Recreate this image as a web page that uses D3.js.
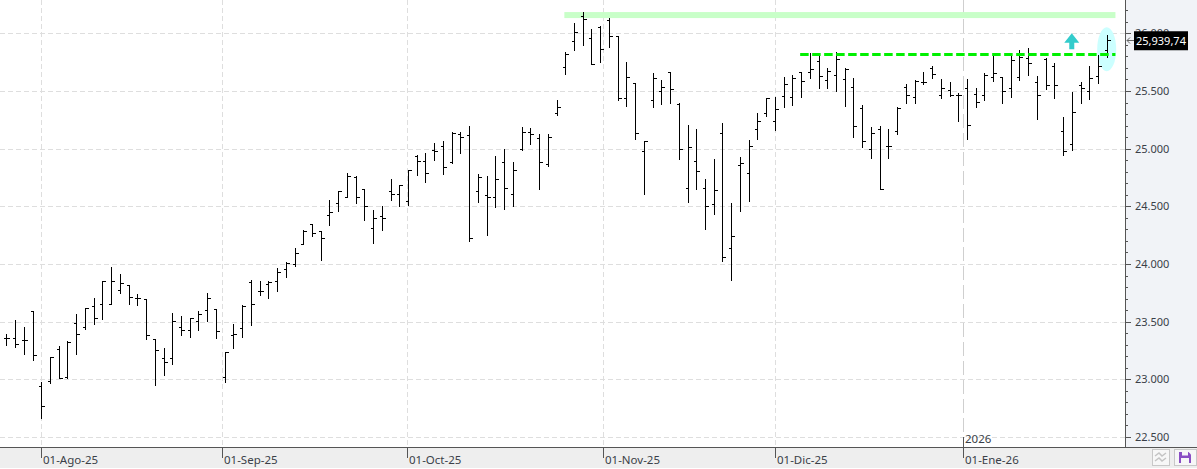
<!DOCTYPE html>
<html>
<head>
<meta charset="utf-8">
<script src="https://cdn.jsdelivr.net/npm/d3@7"></script>
<style>
    html, body { margin: 0; padding: 0; background: #fff; overflow: hidden; }
    text { font-family: "Noto Sans", sans-serif; font-size: 11.5px; fill: #3a3f48; }
</style>
</head>
<body>
<div id="chart"></div>
<script>
// Daily bars, oldest first
const opens = [23354,23356,23342,23591,22939,22982,23261,23017,23487,23452,23635,23652,23652,23774,23814,23701,23696,23348,23182,23182,23452,23426,23504,23600,23609,23017,23385,23443,23843,23762,23826,23852,23957,24000,24175,24343,24285,24421,24525,24582,24753,24646,24316,24412,24629,24611,24542,24935,24889,24984,25027,24886,25123,25114,24629,24594,24577,24880,24603,24993,25140,25088,24871,25305,25706,25931,26147,25957,26052,26112,25974,25438,25568,24980,25421,25499,25663,25386,24660,24893,24660,24522,25135,24141,24859,24790,25170,25308,25239,25454,25445,25662,25662,25757,25593,25636,25601,25532,25350,25000,25168,25026,25150,25532,25445,25581,25697,25462,25506,25462,25523,25471,25464,25617,25617,25522,25617,25783,25577,25774,25713,25156,25043,25548,25504,25626,25852];
const highs = [23391,23516,23452,23591,22974,23191,23290,23330,23568,23617,23704,23852,23974,23916,23817,23739,23696,23348,23269,23574,23548,23530,23591,23748,23609,23240,23478,23641,23858,23852,23849,23965,24014,24136,24293,24343,24288,24551,24637,24785,24767,24646,24464,24507,24741,24689,24819,24941,24958,25048,25062,25140,25140,25192,24776,24767,24932,24993,24880,25184,25178,25123,25123,25424,25836,26086,26184,26035,26061,26130,25974,25749,25568,25066,25654,25594,25663,25392,25205,25170,24738,24911,25222,24530,24928,25075,25308,25438,25447,25621,25636,25662,25827,25801,25697,25835,25697,25610,25376,25185,25199,25168,25358,25558,25593,25662,25714,25601,25575,25480,25601,25523,25652,25803,25617,25803,25855,25872,25629,25783,25739,25278,25495,25574,25713,25812,25983];
const lows = [23301,23284,23220,23168,22664,22971,23009,23014,23220,23438,23481,23527,23649,23745,23649,23641,23348,22953,23040,23136,23380,23371,23432,23507,23354,22980,23275,23371,23475,23727,23701,23762,23884,23980,24169,24244,24033,24337,24461,24577,24530,24383,24184,24296,24556,24504,24513,24773,24712,24903,24782,24877,24964,24201,24539,24253,24496,24478,24504,24984,25042,24652,24851,25288,25651,25856,25902,25732,25755,25885,25418,25366,25081,24605,25357,25383,25392,24908,24536,24648,24302,24432,24026,23862,24458,24545,25081,25280,25158,25364,25382,25448,25616,25526,25529,25503,25373,25104,25017,24919,24647,24922,25130,25399,25399,25558,25616,25442,25454,25243,25087,25358,25426,25588,25397,25449,25594,25640,25258,25519,25440,24944,24988,25397,25429,25571,25791];
const closes = [23354,23310,23342,23214,22765,23191,23014,23322,23391,23617,23530,23849,23852,23835,23713,23701,23383,23252,23148,23504,23426,23530,23565,23704,23417,23235,23397,23638,23652,23762,23843,23930,24009,24096,24290,24270,24221,24455,24634,24759,24577,24499,24395,24395,24611,24681,24811,24889,24785,24978,24837,25134,25097,24221,24750,24577,24741,24655,24819,25140,25123,24880,25097,25360,25818,26009,26121,25732,25862,25974,25438,25620,25135,25066,25611,25533,25516,24997,25014,24807,24504,24643,24063,24245,24876,25023,25239,25438,25343,25561,25610,25584,25688,25627,25671,25775,25688,25194,25064,25133,24647,25020,25353,25462,25584,25581,25645,25523,25462,25462,25202,25402,25635,25652,25504,25765,25791,25739,25461,25548,25548,24982,25321,25522,25609,25713,25939.74];

// Month ticks sit on a bar index, or between two bars when the 1st is not a session
const monthLabels = ["01-Ago-25","01-Sep-25","01-Oct-25","01-Nov-25","01-Dic-25","01-Ene-26"];
const monthIndex = [4, 24.73, 45.92, 68.36, 88, 109.5];
const yearLabel = "2026";

const priceTicks = [22500,23000,23500,24000,24500,25000,25500,26000];
const minorTicks = d3.range(22500, 26500, 100);
const lastPrice = 25939.74;
const lastPriceLabel = "25,939,74";

// Drawn levels
const resistance = 25821;
const channelTop = 26158;
const bandStart = 63.9;
const lineStart = 90.9;
const markerEnd = 127;

const width = 1197;
const height = 469;
const axisX = 1125;
const axisY = 447;

const svg = d3.select("#chart")
    .append("svg")
    .attr("width", width)
    .attr("height", height)
    .style("display", "block");

const xScale = d3.scaleLinear().domain([0, 126]).range([6.3, 1106.7]);
const yScale = d3.scaleLinear().domain([22500, 26000]).range([437, 33.3]);
const snap = v => Math.round(v) + 0.5;

// Panels
svg.append("rect").attr("x", axisX).attr("y", 0).attr("width", width - axisX).attr("height", axisY).attr("fill", "#f1f3f7");
svg.append("rect").attr("x", 0).attr("y", axisY).attr("width", width).attr("height", 21).attr("fill", "#eeeeee");

// Grid
svg.append("g").selectAll("line")
    .data(priceTicks)
    .enter()
    .append("line")
    .attr("x1", 0)
    .attr("x2", axisX)
    .attr("y1", d => snap(yScale(d)))
    .attr("y2", d => snap(yScale(d)))
    .style("stroke", "#dedede")
    .style("stroke-dasharray", "5,3");

svg.append("g").selectAll("line")
    .data(monthIndex)
    .enter()
    .append("line")
    .attr("x1", d => snap(xScale(d)))
    .attr("x2", d => snap(xScale(d)))
    .attr("y1", 0)
    .attr("y2", axisY)
    .style("stroke", (d, i) => i === 5 ? "#cfcfcf" : "#dedede")
    .style("stroke-dasharray", (d, i) => i === 5 ? "14,5" : "5,3");

// Highlight ellipse and resistance band go under the bars
svg.append("ellipse")
    .attr("cx", xScale(126))
    .attr("cy", yScale(25862))
    .attr("rx", 9.5)
    .attr("ry", 22)
    .attr("fill", "#ccffff");

svg.append("rect")
    .attr("x", xScale(bandStart))
    .attr("y", yScale(channelTop) - 3)
    .attr("width", xScale(markerEnd) - xScale(bandStart))
    .attr("height", 6)
    .attr("fill", "#c8ffc8");

// OHLC bars
const bars = svg.append("g").attr("shape-rendering", "crispEdges");
opens.forEach((open, i) => {
    const x = snap(xScale(i));
    bars.append("line")
        .attr("x1", x).attr("x2", x)
        .attr("y1", Math.round(yScale(highs[i])))
        .attr("y2", Math.round(yScale(lows[i])) + 1)
        .style("stroke", "#000");
    bars.append("line")
        .attr("x1", x - 3).attr("x2", x)
        .attr("y1", snap(yScale(open)))
        .attr("y2", snap(yScale(open)))
        .style("stroke", "#000");
    bars.append("line")
        .attr("x1", x).attr("x2", x + 3)
        .attr("y1", snap(yScale(closes[i])))
        .attr("y2", snap(yScale(closes[i])))
        .style("stroke", "#000");
});

// Dashed resistance line
svg.append("line")
    .attr("x1", xScale(lineStart))
    .attr("x2", xScale(markerEnd))
    .attr("y1", snap(yScale(resistance)))
    .attr("y2", snap(yScale(resistance)))
    .style("stroke", "#00f000")
    .style("stroke-width", 3)
    .style("stroke-dasharray", "8.5,3.5");

// Up arrow
const arrowX = xScale(122);
const arrowY = yScale(26000);
svg.append("path")
    .attr("d", `M${arrowX},${arrowY} l7.5,9.5 h-5 v6.5 h-5 v-6.5 h-5 z`)
    .attr("fill", "#33cccc");

// Right axis
const minorAxis = d3.axisRight(yScale).tickValues(minorTicks).tickSize(3).tickFormat("");
const locale = d3.formatLocale({decimal: ",", thousands: ".", grouping: [3], currency: ["", ""]});
const majorAxis = d3.axisRight(yScale).tickValues(priceTicks).tickSize(6).tickPadding(4).tickFormat(locale.format(",d"));

svg.append("g")
    .attr("transform", `translate(${axisX},0)`)
    .attr("shape-rendering", "crispEdges")
    .call(minorAxis)
    .call(g => g.select(".domain").remove())
    .selectAll("line").style("stroke", "#555");

const yAxisG = svg.append("g")
    .attr("transform", `translate(${axisX},0)`)
    .call(majorAxis)
    .call(g => g.select(".domain").remove());
yAxisG.selectAll("line").attr("shape-rendering", "crispEdges").style("stroke", "#555");
yAxisG.selectAll("text").style("font-size", "11px").style("font-family", '"Noto Sans", sans-serif').style("fill", "#3a3f48");

svg.append("line")
    .attr("x1", axisX + 0.5).attr("x2", axisX + 0.5)
    .attr("y1", 0).attr("y2", axisY)
    .style("stroke", "#555");
svg.append("line")
    .attr("x1", 0).attr("x2", width)
    .attr("y1", axisY + 0.5).attr("y2", axisY + 0.5)
    .style("stroke", "#555");

// Last price tag
svg.append("path")
    .attr("d", `M${axisX + 2},${snap(yScale(lastPrice))} h7 m-7,0 l3,-3 m-3,3 l3,3`)
    .attr("fill", "none")
    .style("stroke", "#666");
svg.append("rect")
    .attr("x", 1134)
    .attr("y", yScale(lastPrice) - 9)
    .attr("width", 54)
    .attr("height", 19)
    .attr("fill", "#000");
svg.append("text")
    .attr("x", 1136)
    .attr("y", yScale(lastPrice) + 4.5)
    .style("fill", "#fff")
    .style("font-size", "11px")
    .text(lastPriceLabel);

// Bottom axis
svg.append("g").selectAll("line")
    .data(monthIndex)
    .enter()
    .append("line")
    .attr("x1", d => snap(xScale(d)))
    .attr("x2", d => snap(xScale(d)))
    .attr("y1", (d, i) => i === 5 ? 437 : axisY)
    .attr("y2", 458)
    .style("stroke", "#555");

svg.append("g").selectAll("text")
    .data(monthLabels)
    .enter()
    .append("text")
    .attr("x", (d, i) => snap(xScale(monthIndex[i])) + 1.5)
    .attr("y", 464)
    .text(d => d);

svg.append("text")
    .attr("x", snap(xScale(monthIndex[5])) + 1.5)
    .attr("y", 443)
    .text(yearLabel);

// Toolbar buttons
svg.append("rect").attr("x", 1152.5).attr("y", 449.5).attr("width", 17).attr("height", 16).attr("fill", "#f7f7f7").style("stroke", "#c8c8c8");
svg.append("path")
    .attr("d", "M1155,456 l4,-3 l3,3 l4,-3 M1155,461 l4,-3 l3,3 l4,-3")
    .attr("fill", "none")
    .style("stroke", "#c4c4c4")
    .style("stroke-width", 1.5);
svg.append("rect").attr("x", 1174.5).attr("y", 449.5).attr("width", 22).attr("height", 16).attr("fill", "#f7f7f7").style("stroke", "#c8c8c8");
svg.append("path")
    .attr("d", "M1179,452 h9.5 l2.5,2.5 v8.5 h-12 z")
    .attr("fill", "#8a4fc4");
svg.append("rect").attr("x", 1182).attr("y", 452).attr("width", 6).attr("height", 3.5).attr("fill", "#f7f7f7");
svg.append("rect").attr("x", 1181).attr("y", 458).attr("width", 8).attr("height", 5).attr("fill", "#f7f7f7");
</script>
</body>
</html>
